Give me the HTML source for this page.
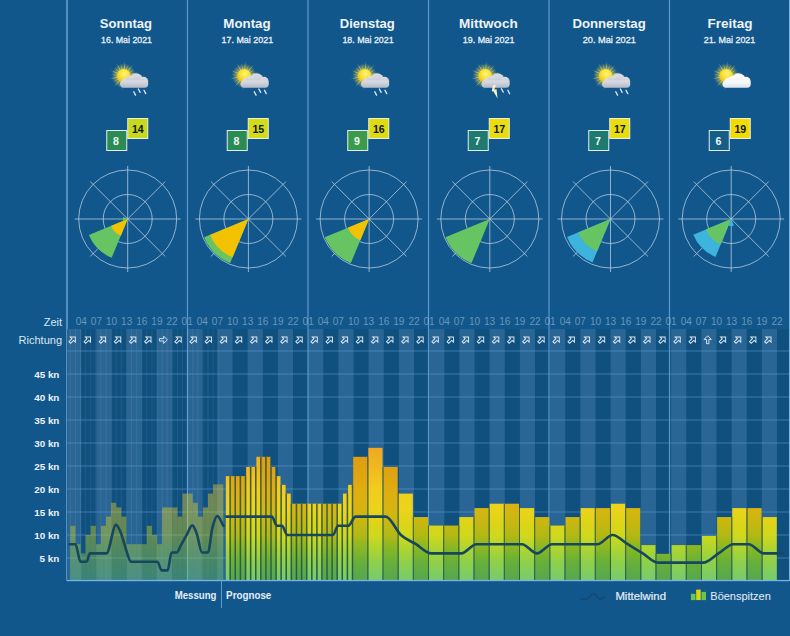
<!DOCTYPE html>
<html><head><meta charset="utf-8"><title>Wind</title>
<style>html,body{margin:0;padding:0;background:#12578c;width:790px;height:636px;overflow:hidden}svg{display:block}</style>
</head><body><svg width="790" height="636" viewBox="0 0 790 636"><defs>
<linearGradient id="bg" gradientUnits="userSpaceOnUse" x1="0" y1="581" x2="0" y2="443">
 <stop offset="0" stop-color="#78cc70"/>
 <stop offset="0.03" stop-color="#7acc68"/>
 <stop offset="0.14" stop-color="#90d048"/>
 <stop offset="0.26" stop-color="#b6d62a"/>
 <stop offset="0.33" stop-color="#d0d81c"/>
 <stop offset="0.41" stop-color="#dcd418"/>
 <stop offset="0.53" stop-color="#ecd41c"/>
 <stop offset="0.67" stop-color="#f2cc1e"/>
 <stop offset="0.83" stop-color="#f0b820"/>
 <stop offset="1" stop-color="#f0a424"/>
</linearGradient>
<linearGradient id="bgd" gradientUnits="userSpaceOnUse" x1="0" y1="581" x2="0" y2="443">
 <stop offset="0" stop-color="#56a650"/>
 <stop offset="0.03" stop-color="#58a84c"/>
 <stop offset="0.14" stop-color="#68b038"/>
 <stop offset="0.26" stop-color="#90b820"/>
 <stop offset="0.33" stop-color="#b2b814"/>
 <stop offset="0.43" stop-color="#c8b810"/>
 <stop offset="0.53" stop-color="#d8b410"/>
 <stop offset="0.67" stop-color="#e0ac10"/>
 <stop offset="0.83" stop-color="#e0a010"/>
 <stop offset="1" stop-color="#e09818"/>
</linearGradient>
<radialGradient id="sung" cx="0.55" cy="0.35" r="0.75">
 <stop offset="0" stop-color="#fff68a"/>
 <stop offset="0.45" stop-color="#fbe030"/>
 <stop offset="1" stop-color="#f0b010"/>
</radialGradient>
<radialGradient id="sunglow" cx="0.5" cy="0.5" r="0.5">
 <stop offset="0.5" stop-color="#f8e040" stop-opacity="0.55"/>
 <stop offset="1" stop-color="#f8e040" stop-opacity="0"/>
</radialGradient>
<linearGradient id="cloudg" x1="0" y1="0" x2="0" y2="1">
 <stop offset="0" stop-color="#dcdfe6"/>
 <stop offset="1" stop-color="#b6bac6"/>
</linearGradient>
<linearGradient id="cloudw" x1="0" y1="0" x2="0" y2="1">
 <stop offset="0" stop-color="#ffffff"/>
 <stop offset="1" stop-color="#dfe3ea"/>
</linearGradient>
</defs><rect width="790" height="636" fill="#12578c"/><text x="99.80" y="27.7" font-size="13" font-weight="bold" fill="#eef3f8" textLength="52.20" lengthAdjust="spacingAndGlyphs" font-family="Liberation Sans, sans-serif">Sonntag</text>
<text x="101.10" y="42.9" font-size="9.4" fill="#e8eff6" stroke="#e8eff6" stroke-width="0.3" textLength="50.90" lengthAdjust="spacingAndGlyphs" font-family="Liberation Sans, sans-serif">16. Mai 2021</text>
<text x="223.30" y="27.7" font-size="13" font-weight="bold" fill="#eef3f8" textLength="47.30" lengthAdjust="spacingAndGlyphs" font-family="Liberation Sans, sans-serif">Montag</text>
<text x="221.60" y="42.9" font-size="9.4" fill="#e8eff6" stroke="#e8eff6" stroke-width="0.3" textLength="51.50" lengthAdjust="spacingAndGlyphs" font-family="Liberation Sans, sans-serif">17. Mai 2021</text>
<text x="339.80" y="27.7" font-size="13" font-weight="bold" fill="#eef3f8" textLength="55.00" lengthAdjust="spacingAndGlyphs" font-family="Liberation Sans, sans-serif">Dienstag</text>
<text x="342.40" y="42.9" font-size="9.4" fill="#e8eff6" stroke="#e8eff6" stroke-width="0.3" textLength="51.20" lengthAdjust="spacingAndGlyphs" font-family="Liberation Sans, sans-serif">18. Mai 2021</text>
<text x="459.00" y="27.7" font-size="13" font-weight="bold" fill="#eef3f8" textLength="58.70" lengthAdjust="spacingAndGlyphs" font-family="Liberation Sans, sans-serif">Mittwoch</text>
<text x="462.80" y="42.9" font-size="9.4" fill="#e8eff6" stroke="#e8eff6" stroke-width="0.3" textLength="51.60" lengthAdjust="spacingAndGlyphs" font-family="Liberation Sans, sans-serif">19. Mai 2021</text>
<text x="572.40" y="27.7" font-size="13" font-weight="bold" fill="#eef3f8" textLength="73.30" lengthAdjust="spacingAndGlyphs" font-family="Liberation Sans, sans-serif">Donnerstag</text>
<text x="582.70" y="42.9" font-size="9.4" fill="#e8eff6" stroke="#e8eff6" stroke-width="0.3" textLength="53.20" lengthAdjust="spacingAndGlyphs" font-family="Liberation Sans, sans-serif">20. Mai 2021</text>
<text x="707.50" y="27.7" font-size="13" font-weight="bold" fill="#eef3f8" textLength="45.00" lengthAdjust="spacingAndGlyphs" font-family="Liberation Sans, sans-serif">Freitag</text>
<text x="703.70" y="42.9" font-size="9.4" fill="#e8eff6" stroke="#e8eff6" stroke-width="0.3" textLength="51.60" lengthAdjust="spacingAndGlyphs" font-family="Liberation Sans, sans-serif">21. Mai 2021</text>
<rect x="66.40" y="0" width="1.2" height="581" fill="#80b6e2"/>
<rect x="186.90" y="0" width="1.2" height="581" fill="#5a98cf"/>
<rect x="307.40" y="0" width="1.2" height="581" fill="#5a98cf"/>
<rect x="427.90" y="0" width="1.2" height="581" fill="#5a98cf"/>
<rect x="548.40" y="0" width="1.2" height="581" fill="#5a98cf"/>
<rect x="668.90" y="0" width="1.2" height="581" fill="#5a98cf"/>
<g transform="translate(123.65,75.8)"><circle r="12.5" fill="url(#sunglow)"/><path d="M-0.9,0 L0,-14.5 L0.9,0 Z" fill="#f6e455" opacity="0.65" transform="rotate(5)"/><path d="M-0.9,0 L0,-11.5 L0.9,0 Z" fill="#f6e455" opacity="0.65" transform="rotate(23)"/><path d="M-0.9,0 L0,-14.5 L0.9,0 Z" fill="#f6e455" opacity="0.65" transform="rotate(41)"/><path d="M-0.9,0 L0,-11.5 L0.9,0 Z" fill="#f6e455" opacity="0.65" transform="rotate(59)"/><path d="M-0.9,0 L0,-14.5 L0.9,0 Z" fill="#f6e455" opacity="0.65" transform="rotate(77)"/><path d="M-0.9,0 L0,-11.5 L0.9,0 Z" fill="#f6e455" opacity="0.65" transform="rotate(95)"/><path d="M-0.9,0 L0,-14.5 L0.9,0 Z" fill="#f6e455" opacity="0.65" transform="rotate(113)"/><path d="M-0.9,0 L0,-11.5 L0.9,0 Z" fill="#f6e455" opacity="0.65" transform="rotate(131)"/><path d="M-0.9,0 L0,-14.5 L0.9,0 Z" fill="#f6e455" opacity="0.65" transform="rotate(149)"/><path d="M-0.9,0 L0,-11.5 L0.9,0 Z" fill="#f6e455" opacity="0.65" transform="rotate(167)"/><path d="M-0.9,0 L0,-14.5 L0.9,0 Z" fill="#f6e455" opacity="0.65" transform="rotate(185)"/><path d="M-0.9,0 L0,-11.5 L0.9,0 Z" fill="#f6e455" opacity="0.65" transform="rotate(203)"/><path d="M-0.9,0 L0,-14.5 L0.9,0 Z" fill="#f6e455" opacity="0.65" transform="rotate(221)"/><path d="M-0.9,0 L0,-11.5 L0.9,0 Z" fill="#f6e455" opacity="0.65" transform="rotate(239)"/><path d="M-0.9,0 L0,-14.5 L0.9,0 Z" fill="#f6e455" opacity="0.65" transform="rotate(257)"/><path d="M-0.9,0 L0,-11.5 L0.9,0 Z" fill="#f6e455" opacity="0.65" transform="rotate(275)"/><path d="M-0.9,0 L0,-14.5 L0.9,0 Z" fill="#f6e455" opacity="0.65" transform="rotate(293)"/><path d="M-0.9,0 L0,-11.5 L0.9,0 Z" fill="#f6e455" opacity="0.65" transform="rotate(311)"/><path d="M-0.9,0 L0,-14.5 L0.9,0 Z" fill="#f6e455" opacity="0.65" transform="rotate(329)"/><path d="M-0.9,0 L0,-11.5 L0.9,0 Z" fill="#f6e455" opacity="0.65" transform="rotate(347)"/><circle r="6.8" fill="url(#sung)"/></g><g transform="translate(127.25,0)" fill="url(#cloudg)"><circle cx="-1.2" cy="82.6" r="4.6"/><circle cx="8.8" cy="80.2" r="7"/><circle cx="16.2" cy="81.6" r="4.8"/><circle cx="3" cy="80.6" r="4.6"/><rect x="-7.2" y="80.5" width="28.2" height="7.2" rx="3.6"/></g><line x1="133.75" y1="91.7" x2="135.55" y2="95.10000000000001" stroke="#dfeaf7" stroke-width="1.3" stroke-linecap="round"/><line x1="138.35" y1="89.0" x2="140.15" y2="92.4" stroke="#dfeaf7" stroke-width="1.3" stroke-linecap="round"/><line x1="143.95" y1="90.2" x2="145.75" y2="93.60000000000001" stroke="#dfeaf7" stroke-width="1.3" stroke-linecap="round"/>
<g transform="translate(244.15,75.8)"><circle r="12.5" fill="url(#sunglow)"/><path d="M-0.9,0 L0,-14.5 L0.9,0 Z" fill="#f6e455" opacity="0.65" transform="rotate(5)"/><path d="M-0.9,0 L0,-11.5 L0.9,0 Z" fill="#f6e455" opacity="0.65" transform="rotate(23)"/><path d="M-0.9,0 L0,-14.5 L0.9,0 Z" fill="#f6e455" opacity="0.65" transform="rotate(41)"/><path d="M-0.9,0 L0,-11.5 L0.9,0 Z" fill="#f6e455" opacity="0.65" transform="rotate(59)"/><path d="M-0.9,0 L0,-14.5 L0.9,0 Z" fill="#f6e455" opacity="0.65" transform="rotate(77)"/><path d="M-0.9,0 L0,-11.5 L0.9,0 Z" fill="#f6e455" opacity="0.65" transform="rotate(95)"/><path d="M-0.9,0 L0,-14.5 L0.9,0 Z" fill="#f6e455" opacity="0.65" transform="rotate(113)"/><path d="M-0.9,0 L0,-11.5 L0.9,0 Z" fill="#f6e455" opacity="0.65" transform="rotate(131)"/><path d="M-0.9,0 L0,-14.5 L0.9,0 Z" fill="#f6e455" opacity="0.65" transform="rotate(149)"/><path d="M-0.9,0 L0,-11.5 L0.9,0 Z" fill="#f6e455" opacity="0.65" transform="rotate(167)"/><path d="M-0.9,0 L0,-14.5 L0.9,0 Z" fill="#f6e455" opacity="0.65" transform="rotate(185)"/><path d="M-0.9,0 L0,-11.5 L0.9,0 Z" fill="#f6e455" opacity="0.65" transform="rotate(203)"/><path d="M-0.9,0 L0,-14.5 L0.9,0 Z" fill="#f6e455" opacity="0.65" transform="rotate(221)"/><path d="M-0.9,0 L0,-11.5 L0.9,0 Z" fill="#f6e455" opacity="0.65" transform="rotate(239)"/><path d="M-0.9,0 L0,-14.5 L0.9,0 Z" fill="#f6e455" opacity="0.65" transform="rotate(257)"/><path d="M-0.9,0 L0,-11.5 L0.9,0 Z" fill="#f6e455" opacity="0.65" transform="rotate(275)"/><path d="M-0.9,0 L0,-14.5 L0.9,0 Z" fill="#f6e455" opacity="0.65" transform="rotate(293)"/><path d="M-0.9,0 L0,-11.5 L0.9,0 Z" fill="#f6e455" opacity="0.65" transform="rotate(311)"/><path d="M-0.9,0 L0,-14.5 L0.9,0 Z" fill="#f6e455" opacity="0.65" transform="rotate(329)"/><path d="M-0.9,0 L0,-11.5 L0.9,0 Z" fill="#f6e455" opacity="0.65" transform="rotate(347)"/><circle r="6.8" fill="url(#sung)"/></g><g transform="translate(247.75,0)" fill="url(#cloudg)"><circle cx="-1.2" cy="82.6" r="4.6"/><circle cx="8.8" cy="80.2" r="7"/><circle cx="16.2" cy="81.6" r="4.8"/><circle cx="3" cy="80.6" r="4.6"/><rect x="-7.2" y="80.5" width="28.2" height="7.2" rx="3.6"/></g><line x1="254.25" y1="91.7" x2="256.05" y2="95.10000000000001" stroke="#dfeaf7" stroke-width="1.3" stroke-linecap="round"/><line x1="258.85" y1="89.0" x2="260.65" y2="92.4" stroke="#dfeaf7" stroke-width="1.3" stroke-linecap="round"/><line x1="264.45" y1="90.2" x2="266.25" y2="93.60000000000001" stroke="#dfeaf7" stroke-width="1.3" stroke-linecap="round"/>
<g transform="translate(364.65,75.8)"><circle r="12.5" fill="url(#sunglow)"/><path d="M-0.9,0 L0,-14.5 L0.9,0 Z" fill="#f6e455" opacity="0.65" transform="rotate(5)"/><path d="M-0.9,0 L0,-11.5 L0.9,0 Z" fill="#f6e455" opacity="0.65" transform="rotate(23)"/><path d="M-0.9,0 L0,-14.5 L0.9,0 Z" fill="#f6e455" opacity="0.65" transform="rotate(41)"/><path d="M-0.9,0 L0,-11.5 L0.9,0 Z" fill="#f6e455" opacity="0.65" transform="rotate(59)"/><path d="M-0.9,0 L0,-14.5 L0.9,0 Z" fill="#f6e455" opacity="0.65" transform="rotate(77)"/><path d="M-0.9,0 L0,-11.5 L0.9,0 Z" fill="#f6e455" opacity="0.65" transform="rotate(95)"/><path d="M-0.9,0 L0,-14.5 L0.9,0 Z" fill="#f6e455" opacity="0.65" transform="rotate(113)"/><path d="M-0.9,0 L0,-11.5 L0.9,0 Z" fill="#f6e455" opacity="0.65" transform="rotate(131)"/><path d="M-0.9,0 L0,-14.5 L0.9,0 Z" fill="#f6e455" opacity="0.65" transform="rotate(149)"/><path d="M-0.9,0 L0,-11.5 L0.9,0 Z" fill="#f6e455" opacity="0.65" transform="rotate(167)"/><path d="M-0.9,0 L0,-14.5 L0.9,0 Z" fill="#f6e455" opacity="0.65" transform="rotate(185)"/><path d="M-0.9,0 L0,-11.5 L0.9,0 Z" fill="#f6e455" opacity="0.65" transform="rotate(203)"/><path d="M-0.9,0 L0,-14.5 L0.9,0 Z" fill="#f6e455" opacity="0.65" transform="rotate(221)"/><path d="M-0.9,0 L0,-11.5 L0.9,0 Z" fill="#f6e455" opacity="0.65" transform="rotate(239)"/><path d="M-0.9,0 L0,-14.5 L0.9,0 Z" fill="#f6e455" opacity="0.65" transform="rotate(257)"/><path d="M-0.9,0 L0,-11.5 L0.9,0 Z" fill="#f6e455" opacity="0.65" transform="rotate(275)"/><path d="M-0.9,0 L0,-14.5 L0.9,0 Z" fill="#f6e455" opacity="0.65" transform="rotate(293)"/><path d="M-0.9,0 L0,-11.5 L0.9,0 Z" fill="#f6e455" opacity="0.65" transform="rotate(311)"/><path d="M-0.9,0 L0,-14.5 L0.9,0 Z" fill="#f6e455" opacity="0.65" transform="rotate(329)"/><path d="M-0.9,0 L0,-11.5 L0.9,0 Z" fill="#f6e455" opacity="0.65" transform="rotate(347)"/><circle r="6.8" fill="url(#sung)"/></g><g transform="translate(368.25,0)" fill="url(#cloudg)"><circle cx="-1.2" cy="82.6" r="4.6"/><circle cx="8.8" cy="80.2" r="7"/><circle cx="16.2" cy="81.6" r="4.8"/><circle cx="3" cy="80.6" r="4.6"/><rect x="-7.2" y="80.5" width="28.2" height="7.2" rx="3.6"/></g><line x1="374.75" y1="91.7" x2="376.55" y2="95.10000000000001" stroke="#dfeaf7" stroke-width="1.3" stroke-linecap="round"/><line x1="379.35" y1="89.0" x2="381.15" y2="92.4" stroke="#dfeaf7" stroke-width="1.3" stroke-linecap="round"/><line x1="384.95" y1="90.2" x2="386.75" y2="93.60000000000001" stroke="#dfeaf7" stroke-width="1.3" stroke-linecap="round"/>
<g transform="translate(485.15,75.8)"><circle r="12.5" fill="url(#sunglow)"/><path d="M-0.9,0 L0,-14.5 L0.9,0 Z" fill="#f6e455" opacity="0.65" transform="rotate(5)"/><path d="M-0.9,0 L0,-11.5 L0.9,0 Z" fill="#f6e455" opacity="0.65" transform="rotate(23)"/><path d="M-0.9,0 L0,-14.5 L0.9,0 Z" fill="#f6e455" opacity="0.65" transform="rotate(41)"/><path d="M-0.9,0 L0,-11.5 L0.9,0 Z" fill="#f6e455" opacity="0.65" transform="rotate(59)"/><path d="M-0.9,0 L0,-14.5 L0.9,0 Z" fill="#f6e455" opacity="0.65" transform="rotate(77)"/><path d="M-0.9,0 L0,-11.5 L0.9,0 Z" fill="#f6e455" opacity="0.65" transform="rotate(95)"/><path d="M-0.9,0 L0,-14.5 L0.9,0 Z" fill="#f6e455" opacity="0.65" transform="rotate(113)"/><path d="M-0.9,0 L0,-11.5 L0.9,0 Z" fill="#f6e455" opacity="0.65" transform="rotate(131)"/><path d="M-0.9,0 L0,-14.5 L0.9,0 Z" fill="#f6e455" opacity="0.65" transform="rotate(149)"/><path d="M-0.9,0 L0,-11.5 L0.9,0 Z" fill="#f6e455" opacity="0.65" transform="rotate(167)"/><path d="M-0.9,0 L0,-14.5 L0.9,0 Z" fill="#f6e455" opacity="0.65" transform="rotate(185)"/><path d="M-0.9,0 L0,-11.5 L0.9,0 Z" fill="#f6e455" opacity="0.65" transform="rotate(203)"/><path d="M-0.9,0 L0,-14.5 L0.9,0 Z" fill="#f6e455" opacity="0.65" transform="rotate(221)"/><path d="M-0.9,0 L0,-11.5 L0.9,0 Z" fill="#f6e455" opacity="0.65" transform="rotate(239)"/><path d="M-0.9,0 L0,-14.5 L0.9,0 Z" fill="#f6e455" opacity="0.65" transform="rotate(257)"/><path d="M-0.9,0 L0,-11.5 L0.9,0 Z" fill="#f6e455" opacity="0.65" transform="rotate(275)"/><path d="M-0.9,0 L0,-14.5 L0.9,0 Z" fill="#f6e455" opacity="0.65" transform="rotate(293)"/><path d="M-0.9,0 L0,-11.5 L0.9,0 Z" fill="#f6e455" opacity="0.65" transform="rotate(311)"/><path d="M-0.9,0 L0,-14.5 L0.9,0 Z" fill="#f6e455" opacity="0.65" transform="rotate(329)"/><path d="M-0.9,0 L0,-11.5 L0.9,0 Z" fill="#f6e455" opacity="0.65" transform="rotate(347)"/><circle r="6.8" fill="url(#sung)"/></g><g transform="translate(488.75,0)" fill="url(#cloudg)"><circle cx="-1.2" cy="82.6" r="4.6"/><circle cx="8.8" cy="80.2" r="7"/><circle cx="16.2" cy="81.6" r="4.8"/><circle cx="3" cy="80.6" r="4.6"/><rect x="-7.2" y="80.5" width="28.2" height="7.2" rx="3.6"/></g><line x1="501.45" y1="88.7" x2="503.25" y2="92.10000000000001" stroke="#dfeaf7" stroke-width="1.3" stroke-linecap="round"/><line x1="507.85" y1="90.3" x2="509.65" y2="93.7" stroke="#dfeaf7" stroke-width="1.3" stroke-linecap="round"/><path d="M492.95,85 L495.95,85 L494.35,89.6 L496.55,89.2 L497.55,98.5 L493.35,91.2 L491.75,91.6 Z" fill="#f6f2c4"/>
<g transform="translate(605.65,75.8)"><circle r="12.5" fill="url(#sunglow)"/><path d="M-0.9,0 L0,-14.5 L0.9,0 Z" fill="#f6e455" opacity="0.65" transform="rotate(5)"/><path d="M-0.9,0 L0,-11.5 L0.9,0 Z" fill="#f6e455" opacity="0.65" transform="rotate(23)"/><path d="M-0.9,0 L0,-14.5 L0.9,0 Z" fill="#f6e455" opacity="0.65" transform="rotate(41)"/><path d="M-0.9,0 L0,-11.5 L0.9,0 Z" fill="#f6e455" opacity="0.65" transform="rotate(59)"/><path d="M-0.9,0 L0,-14.5 L0.9,0 Z" fill="#f6e455" opacity="0.65" transform="rotate(77)"/><path d="M-0.9,0 L0,-11.5 L0.9,0 Z" fill="#f6e455" opacity="0.65" transform="rotate(95)"/><path d="M-0.9,0 L0,-14.5 L0.9,0 Z" fill="#f6e455" opacity="0.65" transform="rotate(113)"/><path d="M-0.9,0 L0,-11.5 L0.9,0 Z" fill="#f6e455" opacity="0.65" transform="rotate(131)"/><path d="M-0.9,0 L0,-14.5 L0.9,0 Z" fill="#f6e455" opacity="0.65" transform="rotate(149)"/><path d="M-0.9,0 L0,-11.5 L0.9,0 Z" fill="#f6e455" opacity="0.65" transform="rotate(167)"/><path d="M-0.9,0 L0,-14.5 L0.9,0 Z" fill="#f6e455" opacity="0.65" transform="rotate(185)"/><path d="M-0.9,0 L0,-11.5 L0.9,0 Z" fill="#f6e455" opacity="0.65" transform="rotate(203)"/><path d="M-0.9,0 L0,-14.5 L0.9,0 Z" fill="#f6e455" opacity="0.65" transform="rotate(221)"/><path d="M-0.9,0 L0,-11.5 L0.9,0 Z" fill="#f6e455" opacity="0.65" transform="rotate(239)"/><path d="M-0.9,0 L0,-14.5 L0.9,0 Z" fill="#f6e455" opacity="0.65" transform="rotate(257)"/><path d="M-0.9,0 L0,-11.5 L0.9,0 Z" fill="#f6e455" opacity="0.65" transform="rotate(275)"/><path d="M-0.9,0 L0,-14.5 L0.9,0 Z" fill="#f6e455" opacity="0.65" transform="rotate(293)"/><path d="M-0.9,0 L0,-11.5 L0.9,0 Z" fill="#f6e455" opacity="0.65" transform="rotate(311)"/><path d="M-0.9,0 L0,-14.5 L0.9,0 Z" fill="#f6e455" opacity="0.65" transform="rotate(329)"/><path d="M-0.9,0 L0,-11.5 L0.9,0 Z" fill="#f6e455" opacity="0.65" transform="rotate(347)"/><circle r="6.8" fill="url(#sung)"/></g><g transform="translate(609.25,0)" fill="url(#cloudg)"><circle cx="-1.2" cy="82.6" r="4.6"/><circle cx="8.8" cy="80.2" r="7"/><circle cx="16.2" cy="81.6" r="4.8"/><circle cx="3" cy="80.6" r="4.6"/><rect x="-7.2" y="80.5" width="28.2" height="7.2" rx="3.6"/></g><line x1="615.75" y1="91.7" x2="617.55" y2="95.10000000000001" stroke="#dfeaf7" stroke-width="1.3" stroke-linecap="round"/><line x1="620.35" y1="89.0" x2="622.15" y2="92.4" stroke="#dfeaf7" stroke-width="1.3" stroke-linecap="round"/><line x1="625.95" y1="90.2" x2="627.75" y2="93.60000000000001" stroke="#dfeaf7" stroke-width="1.3" stroke-linecap="round"/>
<g transform="translate(726.15,75.8)"><circle r="12.5" fill="url(#sunglow)"/><path d="M-0.9,0 L0,-14.5 L0.9,0 Z" fill="#f6e455" opacity="0.65" transform="rotate(5)"/><path d="M-0.9,0 L0,-11.5 L0.9,0 Z" fill="#f6e455" opacity="0.65" transform="rotate(23)"/><path d="M-0.9,0 L0,-14.5 L0.9,0 Z" fill="#f6e455" opacity="0.65" transform="rotate(41)"/><path d="M-0.9,0 L0,-11.5 L0.9,0 Z" fill="#f6e455" opacity="0.65" transform="rotate(59)"/><path d="M-0.9,0 L0,-14.5 L0.9,0 Z" fill="#f6e455" opacity="0.65" transform="rotate(77)"/><path d="M-0.9,0 L0,-11.5 L0.9,0 Z" fill="#f6e455" opacity="0.65" transform="rotate(95)"/><path d="M-0.9,0 L0,-14.5 L0.9,0 Z" fill="#f6e455" opacity="0.65" transform="rotate(113)"/><path d="M-0.9,0 L0,-11.5 L0.9,0 Z" fill="#f6e455" opacity="0.65" transform="rotate(131)"/><path d="M-0.9,0 L0,-14.5 L0.9,0 Z" fill="#f6e455" opacity="0.65" transform="rotate(149)"/><path d="M-0.9,0 L0,-11.5 L0.9,0 Z" fill="#f6e455" opacity="0.65" transform="rotate(167)"/><path d="M-0.9,0 L0,-14.5 L0.9,0 Z" fill="#f6e455" opacity="0.65" transform="rotate(185)"/><path d="M-0.9,0 L0,-11.5 L0.9,0 Z" fill="#f6e455" opacity="0.65" transform="rotate(203)"/><path d="M-0.9,0 L0,-14.5 L0.9,0 Z" fill="#f6e455" opacity="0.65" transform="rotate(221)"/><path d="M-0.9,0 L0,-11.5 L0.9,0 Z" fill="#f6e455" opacity="0.65" transform="rotate(239)"/><path d="M-0.9,0 L0,-14.5 L0.9,0 Z" fill="#f6e455" opacity="0.65" transform="rotate(257)"/><path d="M-0.9,0 L0,-11.5 L0.9,0 Z" fill="#f6e455" opacity="0.65" transform="rotate(275)"/><path d="M-0.9,0 L0,-14.5 L0.9,0 Z" fill="#f6e455" opacity="0.65" transform="rotate(293)"/><path d="M-0.9,0 L0,-11.5 L0.9,0 Z" fill="#f6e455" opacity="0.65" transform="rotate(311)"/><path d="M-0.9,0 L0,-14.5 L0.9,0 Z" fill="#f6e455" opacity="0.65" transform="rotate(329)"/><path d="M-0.9,0 L0,-11.5 L0.9,0 Z" fill="#f6e455" opacity="0.65" transform="rotate(347)"/><circle r="6.8" fill="url(#sung)"/></g><g transform="translate(729.75,0)" fill="url(#cloudw)"><circle cx="-1.2" cy="82.6" r="4.6"/><circle cx="8.8" cy="80.2" r="7"/><circle cx="16.2" cy="81.6" r="4.8"/><circle cx="3" cy="80.6" r="4.6"/><rect x="-7.2" y="80.5" width="28.2" height="7.2" rx="3.6"/></g>
<rect x="106.75" y="130.5" width="20" height="20" fill="#2a8b55" stroke="#e4eee8" stroke-width="1"/>
<rect x="127.75" y="118.5" width="20" height="20" fill="#c6d91e" stroke="#eef0dc" stroke-width="1"/>
<text x="116.05" y="144.6" text-anchor="middle" font-size="10.6" font-weight="bold" fill="#f2f6f4" font-family="Liberation Sans, sans-serif">8</text>
<text x="137.85" y="132.8" text-anchor="middle" font-size="10.6" font-weight="bold" fill="#111" font-family="Liberation Sans, sans-serif">14</text>
<rect x="227.25" y="130.5" width="20" height="20" fill="#2a8b55" stroke="#e4eee8" stroke-width="1"/>
<rect x="248.25" y="118.5" width="20" height="20" fill="#d2dc18" stroke="#eef0dc" stroke-width="1"/>
<text x="236.55" y="144.6" text-anchor="middle" font-size="10.6" font-weight="bold" fill="#f2f6f4" font-family="Liberation Sans, sans-serif">8</text>
<text x="258.35" y="132.8" text-anchor="middle" font-size="10.6" font-weight="bold" fill="#111" font-family="Liberation Sans, sans-serif">15</text>
<rect x="347.75" y="130.5" width="20" height="20" fill="#3c9b4a" stroke="#e4eee8" stroke-width="1"/>
<rect x="368.75" y="118.5" width="20" height="20" fill="#dedc10" stroke="#eef0dc" stroke-width="1"/>
<text x="357.05" y="144.6" text-anchor="middle" font-size="10.6" font-weight="bold" fill="#f2f6f4" font-family="Liberation Sans, sans-serif">9</text>
<text x="378.85" y="132.8" text-anchor="middle" font-size="10.6" font-weight="bold" fill="#111" font-family="Liberation Sans, sans-serif">16</text>
<rect x="468.25" y="130.5" width="20" height="20" fill="#1e7a6e" stroke="#e4eee8" stroke-width="1"/>
<rect x="489.25" y="118.5" width="20" height="20" fill="#e9dd0e" stroke="#eef0dc" stroke-width="1"/>
<text x="477.55" y="144.6" text-anchor="middle" font-size="10.6" font-weight="bold" fill="#f2f6f4" font-family="Liberation Sans, sans-serif">7</text>
<text x="499.35" y="132.8" text-anchor="middle" font-size="10.6" font-weight="bold" fill="#111" font-family="Liberation Sans, sans-serif">17</text>
<rect x="588.75" y="130.5" width="20" height="20" fill="#1e7a6e" stroke="#e4eee8" stroke-width="1"/>
<rect x="609.75" y="118.5" width="20" height="20" fill="#e9dd0e" stroke="#eef0dc" stroke-width="1"/>
<text x="598.05" y="144.6" text-anchor="middle" font-size="10.6" font-weight="bold" fill="#f2f6f4" font-family="Liberation Sans, sans-serif">7</text>
<text x="619.85" y="132.8" text-anchor="middle" font-size="10.6" font-weight="bold" fill="#111" font-family="Liberation Sans, sans-serif">17</text>
<rect x="709.25" y="130.5" width="20" height="20" fill="#165e88" stroke="#e4eee8" stroke-width="1"/>
<rect x="730.25" y="118.5" width="20" height="20" fill="#f1dc02" stroke="#eef0dc" stroke-width="1"/>
<text x="718.55" y="144.6" text-anchor="middle" font-size="10.6" font-weight="bold" fill="#f2f6f4" font-family="Liberation Sans, sans-serif">6</text>
<text x="740.35" y="132.8" text-anchor="middle" font-size="10.6" font-weight="bold" fill="#111" font-family="Liberation Sans, sans-serif">19</text>
<g stroke="#c8d8ea" stroke-opacity="0.7" stroke-width="1"><circle cx="127.70" cy="219" r="24.5" fill="none"/><circle cx="127.70" cy="219" r="49" fill="none"/><line x1="127.70" y1="166.00" x2="127.70" y2="272.00"/><line x1="90.22" y1="181.52" x2="165.18" y2="256.48"/><line x1="74.70" y1="219.00" x2="180.70" y2="219.00"/><line x1="90.22" y1="256.48" x2="165.18" y2="181.52"/></g>
<path d="M127.70,219.00 L111.63,257.80 A42,42 0 0 1 88.90,235.07 Z" fill="#67c463"/>
<path d="M127.70,219.00 L120.81,235.63 A18,18 0 0 1 111.07,225.89 Z" fill="#f2c200"/>
<path d="M127.70,219.00 L123.08,220.91 A5,5 0 0 1 123.08,217.09 Z" fill="#67c463"/>
<g stroke="#c8d8ea" stroke-opacity="0.7" stroke-width="1"><circle cx="248.40" cy="219" r="24.5" fill="none"/><circle cx="248.40" cy="219" r="49" fill="none"/><line x1="248.40" y1="166.00" x2="248.40" y2="272.00"/><line x1="210.92" y1="181.52" x2="285.88" y2="256.48"/><line x1="195.40" y1="219.00" x2="301.40" y2="219.00"/><line x1="210.92" y1="256.48" x2="285.88" y2="181.52"/></g>
<path d="M248.40,219.00 L230.03,263.35 A48,48 0 0 1 204.05,237.37 Z" fill="#67c463"/>
<path d="M248.40,219.00 L232.52,257.34 A41.5,41.5 0 0 1 210.06,234.88 Z" fill="#f2c200"/>
<g stroke="#c8d8ea" stroke-opacity="0.7" stroke-width="1"><circle cx="369.10" cy="219" r="24.5" fill="none"/><circle cx="369.10" cy="219" r="49" fill="none"/><line x1="369.10" y1="166.00" x2="369.10" y2="272.00"/><line x1="331.62" y1="181.52" x2="406.58" y2="256.48"/><line x1="316.10" y1="219.00" x2="422.10" y2="219.00"/><line x1="331.62" y1="256.48" x2="406.58" y2="181.52"/></g>
<path d="M369.10,219.00 L350.73,263.35 A48,48 0 0 1 324.75,237.37 Z" fill="#67c463"/>
<path d="M369.10,219.00 L360.30,240.25 A23,23 0 0 1 347.85,227.80 Z" fill="#f2c200"/>
<g stroke="#c8d8ea" stroke-opacity="0.7" stroke-width="1"><circle cx="489.80" cy="219" r="24.5" fill="none"/><circle cx="489.80" cy="219" r="49" fill="none"/><line x1="489.80" y1="166.00" x2="489.80" y2="272.00"/><line x1="452.32" y1="181.52" x2="527.28" y2="256.48"/><line x1="436.80" y1="219.00" x2="542.80" y2="219.00"/><line x1="452.32" y1="256.48" x2="527.28" y2="181.52"/></g>
<path d="M489.80,219.00 L471.43,263.35 A48,48 0 0 1 445.45,237.37 Z" fill="#67c463"/>
<g stroke="#c8d8ea" stroke-opacity="0.7" stroke-width="1"><circle cx="610.50" cy="219" r="24.5" fill="none"/><circle cx="610.50" cy="219" r="49" fill="none"/><line x1="610.50" y1="166.00" x2="610.50" y2="272.00"/><line x1="573.02" y1="181.52" x2="647.98" y2="256.48"/><line x1="557.50" y1="219.00" x2="663.50" y2="219.00"/><line x1="573.02" y1="256.48" x2="647.98" y2="181.52"/></g>
<path d="M610.50,219.00 L592.51,262.42 A47,47 0 0 1 567.08,236.99 Z" fill="#3db4dc"/>
<path d="M610.50,219.00 L597.11,251.34 A35,35 0 0 1 578.16,232.39 Z" fill="#67c463"/>
<g stroke="#c8d8ea" stroke-opacity="0.7" stroke-width="1"><circle cx="731.20" cy="219" r="24.5" fill="none"/><circle cx="731.20" cy="219" r="49" fill="none"/><line x1="731.20" y1="166.00" x2="731.20" y2="272.00"/><line x1="693.72" y1="181.52" x2="768.68" y2="256.48"/><line x1="678.20" y1="219.00" x2="784.20" y2="219.00"/><line x1="693.72" y1="256.48" x2="768.68" y2="181.52"/></g>
<path d="M731.20,219.00 L715.51,256.88 A41,41 0 0 1 693.32,234.69 Z" fill="#3db4dc"/>
<path d="M731.20,219.00 L720.68,244.41 A27.5,27.5 0 0 1 705.79,229.52 Z" fill="#67c463"/>
<path d="M731.20,219.00 L733.88,225.47 A7,7 0 0 1 728.52,225.47 Z" fill="#3db4dc"/>
<text x="62" y="326" text-anchor="end" font-size="11" fill="#dbe6f1" font-family="Liberation Sans, sans-serif">Zeit</text>
<text x="62" y="343.5" text-anchor="end" font-size="11" fill="#dbe6f1" font-family="Liberation Sans, sans-serif">Richtung</text>
<clipPath id="cc"><rect x="67" y="329" width="722" height="251.5"/></clipPath>
<rect x="67" y="329" width="722" height="251.5" fill="#10507f"/>
<g clip-path="url(#cc)"><rect x="66.18" y="329" width="15.12" height="251.5" fill="#2a6695"/><rect x="96.43" y="329" width="15.12" height="251.5" fill="#2a6695"/><rect x="126.67" y="329" width="15.12" height="251.5" fill="#2a6695"/><rect x="156.92" y="329" width="15.12" height="251.5" fill="#2a6695"/><rect x="187.16" y="329" width="15.12" height="251.5" fill="#2a6695"/><rect x="217.41" y="329" width="15.12" height="251.5" fill="#2a6695"/><rect x="247.66" y="329" width="15.12" height="251.5" fill="#2a6695"/><rect x="277.90" y="329" width="15.12" height="251.5" fill="#2a6695"/><rect x="308.15" y="329" width="15.12" height="251.5" fill="#2a6695"/><rect x="338.39" y="329" width="15.12" height="251.5" fill="#2a6695"/><rect x="368.64" y="329" width="15.12" height="251.5" fill="#2a6695"/><rect x="398.89" y="329" width="15.12" height="251.5" fill="#2a6695"/><rect x="429.13" y="329" width="15.12" height="251.5" fill="#2a6695"/><rect x="459.38" y="329" width="15.12" height="251.5" fill="#2a6695"/><rect x="489.62" y="329" width="15.12" height="251.5" fill="#2a6695"/><rect x="519.87" y="329" width="15.12" height="251.5" fill="#2a6695"/><rect x="550.12" y="329" width="15.12" height="251.5" fill="#2a6695"/><rect x="580.36" y="329" width="15.12" height="251.5" fill="#2a6695"/><rect x="610.61" y="329" width="15.12" height="251.5" fill="#2a6695"/><rect x="640.85" y="329" width="15.12" height="251.5" fill="#2a6695"/><rect x="671.10" y="329" width="15.12" height="251.5" fill="#2a6695"/><rect x="701.35" y="329" width="15.12" height="251.5" fill="#2a6695"/><rect x="731.59" y="329" width="15.12" height="251.5" fill="#2a6695"/><rect x="761.84" y="329" width="15.12" height="251.5" fill="#2a6695"/></g>
<rect x="186.90" y="329" width="1.2" height="251.5" fill="#5a98cf"/>
<rect x="307.40" y="329" width="1.2" height="251.5" fill="#5a98cf"/>
<rect x="427.90" y="329" width="1.2" height="251.5" fill="#5a98cf"/>
<rect x="548.40" y="329" width="1.2" height="251.5" fill="#5a98cf"/>
<rect x="668.90" y="329" width="1.2" height="251.5" fill="#5a98cf"/>
<rect x="69.80" y="329" width="1" height="251.5" fill="#ffffff" opacity="0.07"/><rect x="74.90" y="329" width="1" height="251.5" fill="#ffffff" opacity="0.07"/><rect x="80.00" y="329" width="1" height="251.5" fill="#ffffff" opacity="0.07"/><rect x="85.10" y="329" width="1" height="251.5" fill="#ffffff" opacity="0.07"/><rect x="90.20" y="329" width="1" height="251.5" fill="#ffffff" opacity="0.07"/><rect x="95.30" y="329" width="1" height="251.5" fill="#ffffff" opacity="0.07"/><rect x="100.40" y="329" width="1" height="251.5" fill="#ffffff" opacity="0.07"/><rect x="105.50" y="329" width="1" height="251.5" fill="#ffffff" opacity="0.07"/><rect x="110.60" y="329" width="1" height="251.5" fill="#ffffff" opacity="0.07"/><rect x="115.70" y="329" width="1" height="251.5" fill="#ffffff" opacity="0.07"/><rect x="120.80" y="329" width="1" height="251.5" fill="#ffffff" opacity="0.07"/><rect x="125.90" y="329" width="1" height="251.5" fill="#ffffff" opacity="0.07"/><rect x="131.00" y="329" width="1" height="251.5" fill="#ffffff" opacity="0.07"/><rect x="136.10" y="329" width="1" height="251.5" fill="#ffffff" opacity="0.07"/><rect x="141.20" y="329" width="1" height="251.5" fill="#ffffff" opacity="0.07"/><rect x="146.30" y="329" width="1" height="251.5" fill="#ffffff" opacity="0.07"/><rect x="151.40" y="329" width="1" height="251.5" fill="#ffffff" opacity="0.07"/><rect x="156.50" y="329" width="1" height="251.5" fill="#ffffff" opacity="0.07"/><rect x="161.60" y="329" width="1" height="251.5" fill="#ffffff" opacity="0.07"/><rect x="166.70" y="329" width="1" height="251.5" fill="#ffffff" opacity="0.07"/><rect x="171.80" y="329" width="1" height="251.5" fill="#ffffff" opacity="0.07"/><rect x="176.90" y="329" width="1" height="251.5" fill="#ffffff" opacity="0.07"/><rect x="182.00" y="329" width="1" height="251.5" fill="#ffffff" opacity="0.07"/><rect x="187.10" y="329" width="1" height="251.5" fill="#ffffff" opacity="0.07"/><rect x="192.20" y="329" width="1" height="251.5" fill="#ffffff" opacity="0.07"/><rect x="197.30" y="329" width="1" height="251.5" fill="#ffffff" opacity="0.07"/><rect x="202.40" y="329" width="1" height="251.5" fill="#ffffff" opacity="0.07"/><rect x="207.50" y="329" width="1" height="251.5" fill="#ffffff" opacity="0.07"/><rect x="212.60" y="329" width="1" height="251.5" fill="#ffffff" opacity="0.07"/><rect x="217.70" y="329" width="1" height="251.5" fill="#ffffff" opacity="0.07"/>
<rect x="67" y="557.50" width="722" height="1" fill="#5f9ad0" opacity="0.55"/>
<rect x="67" y="534.50" width="722" height="1" fill="#5f9ad0" opacity="0.55"/>
<rect x="67" y="511.50" width="722" height="1" fill="#5f9ad0" opacity="0.55"/>
<rect x="67" y="488.50" width="722" height="1" fill="#5f9ad0" opacity="0.55"/>
<rect x="67" y="465.50" width="722" height="1" fill="#5f9ad0" opacity="0.55"/>
<rect x="67" y="442.50" width="722" height="1" fill="#5f9ad0" opacity="0.55"/>
<rect x="67" y="419.50" width="722" height="1" fill="#5f9ad0" opacity="0.55"/>
<rect x="67" y="396.50" width="722" height="1" fill="#5f9ad0" opacity="0.55"/>
<rect x="67" y="373.50" width="722" height="1" fill="#5f9ad0" opacity="0.55"/>
<rect x="67" y="350.50" width="722" height="1" fill="#5f9ad0" opacity="0.55"/>
<text x="39.60" y="562.30" font-size="9.4" font-weight="bold" fill="#eef3f8" textLength="19.8" lengthAdjust="spacingAndGlyphs" font-family="Liberation Sans, sans-serif">5 kn</text>
<text x="34.20" y="539.30" font-size="9.4" font-weight="bold" fill="#eef3f8" textLength="25.2" lengthAdjust="spacingAndGlyphs" font-family="Liberation Sans, sans-serif">10 kn</text>
<text x="34.20" y="516.30" font-size="9.4" font-weight="bold" fill="#eef3f8" textLength="25.2" lengthAdjust="spacingAndGlyphs" font-family="Liberation Sans, sans-serif">15 kn</text>
<text x="34.20" y="493.30" font-size="9.4" font-weight="bold" fill="#eef3f8" textLength="25.2" lengthAdjust="spacingAndGlyphs" font-family="Liberation Sans, sans-serif">20 kn</text>
<text x="34.20" y="470.30" font-size="9.4" font-weight="bold" fill="#eef3f8" textLength="25.2" lengthAdjust="spacingAndGlyphs" font-family="Liberation Sans, sans-serif">25 kn</text>
<text x="34.20" y="447.30" font-size="9.4" font-weight="bold" fill="#eef3f8" textLength="25.2" lengthAdjust="spacingAndGlyphs" font-family="Liberation Sans, sans-serif">30 kn</text>
<text x="34.20" y="424.30" font-size="9.4" font-weight="bold" fill="#eef3f8" textLength="25.2" lengthAdjust="spacingAndGlyphs" font-family="Liberation Sans, sans-serif">35 kn</text>
<text x="34.20" y="401.30" font-size="9.4" font-weight="bold" fill="#eef3f8" textLength="25.2" lengthAdjust="spacingAndGlyphs" font-family="Liberation Sans, sans-serif">40 kn</text>
<text x="34.20" y="378.30" font-size="9.4" font-weight="bold" fill="#eef3f8" textLength="25.2" lengthAdjust="spacingAndGlyphs" font-family="Liberation Sans, sans-serif">45 kn</text>
<g fill="url(#bg)" opacity="0.42"><rect x="70.30" y="525.80" width="5.1" height="54.70"/><rect x="75.40" y="544.20" width="5.1" height="36.30"/><rect x="80.50" y="553.40" width="5.1" height="27.10"/><rect x="85.60" y="535.00" width="5.1" height="45.50"/><rect x="90.70" y="525.80" width="5.1" height="54.70"/><rect x="95.80" y="544.20" width="5.1" height="36.30"/><rect x="100.90" y="525.80" width="5.1" height="54.70"/><rect x="106.00" y="516.60" width="5.1" height="63.90"/><rect x="111.10" y="502.80" width="5.1" height="77.70"/><rect x="116.20" y="507.40" width="5.1" height="73.10"/><rect x="121.30" y="516.60" width="5.1" height="63.90"/><rect x="126.40" y="544.20" width="5.1" height="36.30"/><rect x="131.50" y="544.20" width="5.1" height="36.30"/><rect x="136.60" y="544.20" width="5.1" height="36.30"/><rect x="141.70" y="544.20" width="5.1" height="36.30"/><rect x="146.80" y="525.80" width="5.1" height="54.70"/><rect x="151.90" y="535.00" width="5.1" height="45.50"/><rect x="157.00" y="544.20" width="5.1" height="36.30"/><rect x="162.10" y="507.40" width="5.1" height="73.10"/><rect x="167.20" y="507.40" width="5.1" height="73.10"/><rect x="172.30" y="507.40" width="5.1" height="73.10"/><rect x="177.40" y="516.60" width="5.1" height="63.90"/><rect x="182.50" y="493.60" width="5.1" height="86.90"/><rect x="187.60" y="493.60" width="5.1" height="86.90"/><rect x="192.70" y="502.80" width="5.1" height="77.70"/><rect x="197.80" y="516.60" width="5.1" height="63.90"/><rect x="202.90" y="507.40" width="5.1" height="73.10"/><rect x="208.00" y="493.60" width="5.1" height="86.90"/><rect x="213.10" y="484.40" width="5.1" height="96.10"/><rect x="218.20" y="484.40" width="5.1" height="96.10"/></g>
<g fill="url(#bg)"><rect x="225.80" y="476.12" width="3.75" height="104.38" fill="url(#bg)"/><rect x="230.90" y="476.12" width="3.75" height="104.38" fill="url(#bgd)"/><rect x="235.99" y="476.12" width="3.75" height="104.38" fill="url(#bgd)"/><rect x="241.09" y="476.12" width="3.75" height="104.38" fill="url(#bgd)"/><rect x="246.18" y="466.92" width="3.75" height="113.58" fill="url(#bg)"/><rect x="251.28" y="466.92" width="3.75" height="113.58" fill="url(#bg)"/><rect x="256.38" y="456.80" width="3.75" height="123.70" fill="url(#bg)"/><rect x="261.47" y="456.80" width="3.75" height="123.70" fill="url(#bgd)"/><rect x="266.57" y="456.80" width="3.75" height="123.70" fill="url(#bgd)"/><rect x="271.66" y="466.92" width="3.75" height="113.58" fill="url(#bgd)"/><rect x="276.76" y="476.12" width="3.75" height="104.38" fill="url(#bg)"/><rect x="281.86" y="484.86" width="3.75" height="95.64" fill="url(#bg)"/><rect x="286.95" y="493.60" width="3.75" height="86.90" fill="url(#bg)"/><rect x="292.05" y="503.72" width="3.75" height="76.78" fill="url(#bgd)"/><rect x="297.14" y="503.72" width="3.75" height="76.78" fill="url(#bgd)"/><rect x="302.24" y="503.72" width="3.75" height="76.78" fill="url(#bgd)"/><rect x="307.34" y="503.72" width="3.75" height="76.78" fill="url(#bg)"/><rect x="312.43" y="503.72" width="3.75" height="76.78" fill="url(#bg)"/><rect x="317.53" y="503.72" width="3.75" height="76.78" fill="url(#bg)"/><rect x="322.62" y="503.72" width="3.75" height="76.78" fill="url(#bgd)"/><rect x="327.72" y="503.72" width="3.75" height="76.78" fill="url(#bgd)"/><rect x="332.82" y="503.72" width="3.75" height="76.78" fill="url(#bgd)"/><rect x="337.91" y="503.72" width="3.75" height="76.78" fill="url(#bg)"/><rect x="343.01" y="493.60" width="3.75" height="86.90" fill="url(#bg)"/><rect x="348.10" y="484.86" width="3.75" height="95.64" fill="url(#bg)"/><rect x="353.16" y="456.80" width="14.20" height="123.70" fill="url(#bgd)"/><rect x="368.32" y="447.83" width="14.20" height="132.67" fill="url(#bg)"/><rect x="383.49" y="466.92" width="14.20" height="113.58" fill="url(#bgd)"/><rect x="398.65" y="493.60" width="14.20" height="86.90" fill="url(#bg)"/><rect x="413.82" y="517.06" width="14.20" height="63.44" fill="url(#bgd)"/><rect x="428.98" y="525.57" width="14.20" height="54.93" fill="url(#bg)"/><rect x="444.14" y="525.57" width="14.20" height="54.93" fill="url(#bgd)"/><rect x="459.31" y="517.06" width="14.20" height="63.44" fill="url(#bg)"/><rect x="474.47" y="508.09" width="14.20" height="72.41" fill="url(#bgd)"/><rect x="489.64" y="503.72" width="14.20" height="76.78" fill="url(#bg)"/><rect x="504.80" y="503.72" width="14.20" height="76.78" fill="url(#bgd)"/><rect x="519.96" y="508.09" width="14.20" height="72.41" fill="url(#bg)"/><rect x="535.13" y="517.06" width="14.20" height="63.44" fill="url(#bgd)"/><rect x="550.29" y="525.57" width="14.20" height="54.93" fill="url(#bg)"/><rect x="565.46" y="517.06" width="14.20" height="63.44" fill="url(#bgd)"/><rect x="580.62" y="508.09" width="14.20" height="72.41" fill="url(#bg)"/><rect x="595.78" y="508.09" width="14.20" height="72.41" fill="url(#bgd)"/><rect x="610.95" y="503.72" width="14.20" height="76.78" fill="url(#bg)"/><rect x="626.11" y="508.09" width="14.20" height="72.41" fill="url(#bgd)"/><rect x="641.28" y="545.12" width="14.20" height="35.38" fill="url(#bg)"/><rect x="656.44" y="553.86" width="14.20" height="26.64" fill="url(#bgd)"/><rect x="671.60" y="545.12" width="14.20" height="35.38" fill="url(#bg)"/><rect x="686.77" y="545.12" width="14.20" height="35.38" fill="url(#bgd)"/><rect x="701.93" y="535.92" width="14.20" height="44.58" fill="url(#bg)"/><rect x="717.10" y="517.06" width="14.20" height="63.44" fill="url(#bgd)"/><rect x="732.26" y="508.09" width="14.20" height="72.41" fill="url(#bg)"/><rect x="747.42" y="508.09" width="14.20" height="72.41" fill="url(#bgd)"/><rect x="762.59" y="517.06" width="14.20" height="63.44" fill="url(#bg)"/><rect x="229.55" y="476.12" width="1.35" height="104.38"/><rect x="234.65" y="476.12" width="1.35" height="104.38"/><rect x="239.74" y="476.12" width="1.35" height="104.38"/><rect x="244.84" y="476.12" width="1.35" height="104.38"/><rect x="249.93" y="466.92" width="1.35" height="113.58"/><rect x="255.03" y="466.92" width="1.35" height="113.58"/><rect x="260.13" y="456.80" width="1.35" height="123.70"/><rect x="265.22" y="456.80" width="1.35" height="123.70"/><rect x="270.32" y="466.92" width="1.35" height="113.58"/><rect x="275.41" y="476.12" width="1.35" height="104.38"/><rect x="280.51" y="484.86" width="1.35" height="95.64"/><rect x="285.61" y="493.60" width="1.35" height="86.90"/><rect x="290.70" y="503.72" width="1.35" height="76.78"/><rect x="295.80" y="503.72" width="1.35" height="76.78"/><rect x="300.89" y="503.72" width="1.35" height="76.78"/><rect x="305.99" y="503.72" width="1.35" height="76.78"/><rect x="311.09" y="503.72" width="1.35" height="76.78"/><rect x="316.18" y="503.72" width="1.35" height="76.78"/><rect x="321.28" y="503.72" width="1.35" height="76.78"/><rect x="326.37" y="503.72" width="1.35" height="76.78"/><rect x="331.47" y="503.72" width="1.35" height="76.78"/><rect x="336.57" y="503.72" width="1.35" height="76.78"/><rect x="341.66" y="503.72" width="1.35" height="76.78"/><rect x="346.76" y="493.60" width="1.35" height="86.90"/><rect x="351.85" y="484.86" width="1.31" height="95.64"/><rect x="367.36" y="456.80" width="0.96" height="123.70"/><rect x="382.52" y="466.92" width="0.96" height="113.58"/><rect x="397.69" y="493.60" width="0.96" height="86.90"/><rect x="412.85" y="517.06" width="0.96" height="63.44"/><rect x="428.02" y="525.57" width="0.96" height="54.93"/><rect x="443.18" y="525.57" width="0.96" height="54.93"/><rect x="458.34" y="525.57" width="0.96" height="54.93"/><rect x="473.51" y="517.06" width="0.96" height="63.44"/><rect x="488.67" y="508.09" width="0.96" height="72.41"/><rect x="503.84" y="503.72" width="0.96" height="76.78"/><rect x="519.00" y="508.09" width="0.96" height="72.41"/><rect x="534.16" y="517.06" width="0.96" height="63.44"/><rect x="549.33" y="525.57" width="0.96" height="54.93"/><rect x="564.49" y="525.57" width="0.96" height="54.93"/><rect x="579.66" y="517.06" width="0.96" height="63.44"/><rect x="594.82" y="508.09" width="0.96" height="72.41"/><rect x="609.98" y="508.09" width="0.96" height="72.41"/><rect x="625.15" y="508.09" width="0.96" height="72.41"/><rect x="640.31" y="545.12" width="0.96" height="35.38"/><rect x="655.48" y="553.86" width="0.96" height="26.64"/><rect x="670.64" y="553.86" width="0.96" height="26.64"/><rect x="685.80" y="545.12" width="0.96" height="35.38"/><rect x="700.97" y="545.12" width="0.96" height="35.38"/><rect x="716.13" y="535.92" width="0.96" height="44.58"/><rect x="731.30" y="517.06" width="0.96" height="63.44"/><rect x="746.46" y="508.09" width="0.96" height="72.41"/><rect x="761.62" y="517.06" width="0.96" height="63.44"/></g>
<g fill="#06323e" opacity="0.72"><rect x="229.55" y="476.12" width="1.35" height="104.38"/><rect x="234.65" y="476.12" width="1.35" height="104.38"/><rect x="239.74" y="476.12" width="1.35" height="104.38"/><rect x="244.84" y="476.12" width="1.35" height="104.38"/><rect x="249.93" y="466.92" width="1.35" height="113.58"/><rect x="255.03" y="466.92" width="1.35" height="113.58"/><rect x="260.13" y="456.80" width="1.35" height="123.70"/><rect x="265.22" y="456.80" width="1.35" height="123.70"/><rect x="270.32" y="466.92" width="1.35" height="113.58"/><rect x="275.41" y="476.12" width="1.35" height="104.38"/><rect x="280.51" y="484.86" width="1.35" height="95.64"/><rect x="285.61" y="493.60" width="1.35" height="86.90"/><rect x="290.70" y="503.72" width="1.35" height="76.78"/><rect x="295.80" y="503.72" width="1.35" height="76.78"/><rect x="300.89" y="503.72" width="1.35" height="76.78"/><rect x="305.99" y="503.72" width="1.35" height="76.78"/><rect x="311.09" y="503.72" width="1.35" height="76.78"/><rect x="316.18" y="503.72" width="1.35" height="76.78"/><rect x="321.28" y="503.72" width="1.35" height="76.78"/><rect x="326.37" y="503.72" width="1.35" height="76.78"/><rect x="331.47" y="503.72" width="1.35" height="76.78"/><rect x="336.57" y="503.72" width="1.35" height="76.78"/><rect x="341.66" y="503.72" width="1.35" height="76.78"/><rect x="346.76" y="493.60" width="1.35" height="86.90"/><rect x="351.85" y="484.86" width="1.31" height="95.64"/><rect x="367.36" y="456.80" width="0.96" height="123.70"/><rect x="382.52" y="466.92" width="0.96" height="113.58"/><rect x="397.69" y="493.60" width="0.96" height="86.90"/><rect x="412.85" y="517.06" width="0.96" height="63.44"/><rect x="428.02" y="525.57" width="0.96" height="54.93"/><rect x="443.18" y="525.57" width="0.96" height="54.93"/><rect x="458.34" y="525.57" width="0.96" height="54.93"/><rect x="473.51" y="517.06" width="0.96" height="63.44"/><rect x="488.67" y="508.09" width="0.96" height="72.41"/><rect x="503.84" y="503.72" width="0.96" height="76.78"/><rect x="519.00" y="508.09" width="0.96" height="72.41"/><rect x="534.16" y="517.06" width="0.96" height="63.44"/><rect x="549.33" y="525.57" width="0.96" height="54.93"/><rect x="564.49" y="525.57" width="0.96" height="54.93"/><rect x="579.66" y="517.06" width="0.96" height="63.44"/><rect x="594.82" y="508.09" width="0.96" height="72.41"/><rect x="609.98" y="508.09" width="0.96" height="72.41"/><rect x="625.15" y="508.09" width="0.96" height="72.41"/><rect x="640.31" y="545.12" width="0.96" height="35.38"/><rect x="655.48" y="553.86" width="0.96" height="26.64"/><rect x="670.64" y="553.86" width="0.96" height="26.64"/><rect x="685.80" y="545.12" width="0.96" height="35.38"/><rect x="700.97" y="545.12" width="0.96" height="35.38"/><rect x="716.13" y="535.92" width="0.96" height="44.58"/><rect x="731.30" y="517.06" width="0.96" height="63.44"/><rect x="746.46" y="508.09" width="0.96" height="72.41"/><rect x="761.62" y="517.06" width="0.96" height="63.44"/></g>
<path d="M69.50,544.20 C71.50,544.20 73.50,544.20 75.50,544.20 C77.17,544.20 78.83,561.68 80.50,561.68 C82.50,561.68 84.50,561.68 86.50,561.68 C87.67,561.68 88.83,553.40 90.00,553.40 C95.50,553.40 101.00,553.40 106.50,553.40 C109.67,553.40 112.83,524.88 116.00,524.88 C117.67,524.88 119.33,529.06 121.00,533.16 C122.83,537.67 124.67,545.85 126.50,551.10 C127.93,555.20 129.37,561.68 130.80,561.68 C139.67,561.68 148.53,561.68 157.40,561.68 C158.87,561.68 160.33,570.42 161.80,570.42 C163.73,570.42 165.67,570.42 167.60,570.42 C168.93,570.42 170.27,552.48 171.60,552.48 C173.33,552.48 175.07,552.48 176.80,552.48 C178.37,552.48 179.93,547.01 181.50,544.20 C183.27,541.03 185.03,537.63 186.80,534.54 C188.63,531.34 190.47,525.34 192.30,525.34 C193.77,525.34 195.23,529.63 196.70,533.62 C198.47,538.43 200.23,552.48 202.00,552.48 C204.00,552.48 206.00,552.48 208.00,552.48 C209.43,552.48 210.87,533.88 212.30,528.10 C213.97,521.38 215.63,516.14 217.30,516.14 C219.37,516.14 221.43,522.58 223.50,525.80" fill="none" stroke="#17475f" stroke-width="2.6" stroke-linejoin="round" stroke-linecap="round"/>
<path d="M226.30,516.60 C227.90,516.60 229.50,516.60 231.10,516.60 C232.79,516.60 234.49,516.60 236.19,516.60 C237.89,516.60 239.59,516.60 241.29,516.60 C242.99,516.60 244.69,516.60 246.38,516.60 C248.08,516.60 249.78,516.60 251.48,516.60 C253.18,516.60 254.88,516.60 256.58,516.60 C258.27,516.60 259.97,516.60 261.67,516.60 C263.37,516.60 265.07,516.60 266.77,516.60 C268.47,516.60 270.17,516.60 271.86,516.60 C273.56,516.60 275.26,525.80 276.96,525.80 C278.66,525.80 280.36,525.80 282.06,525.80 C283.75,525.80 285.45,535.00 287.15,535.00 C288.85,535.00 290.55,535.00 292.25,535.00 C293.95,535.00 295.65,535.00 297.34,535.00 C299.04,535.00 300.74,535.00 302.44,535.00 C304.14,535.00 305.84,535.00 307.54,535.00 C309.23,535.00 310.93,535.00 312.63,535.00 C314.33,535.00 316.03,535.00 317.73,535.00 C319.43,535.00 321.13,535.00 322.82,535.00 C324.52,535.00 326.22,535.00 327.92,535.00 C329.62,535.00 331.32,535.00 333.02,535.00 C334.71,535.00 336.41,525.80 338.11,525.80 C339.81,525.80 341.51,525.80 343.21,525.80 C344.91,525.80 346.61,525.80 348.30,525.80 C350.71,525.80 353.11,516.60 355.52,516.60 C360.56,516.60 365.60,516.60 370.64,516.60 C375.68,516.60 380.72,516.60 385.76,516.60 C390.80,516.60 395.85,530.40 400.89,535.00 C405.93,539.60 410.97,541.13 416.01,544.20 C421.05,547.27 426.09,553.40 431.13,553.40 C436.17,553.40 441.21,553.40 446.26,553.40 C451.30,553.40 456.34,553.40 461.38,553.40 C466.42,553.40 471.46,544.20 476.50,544.20 C481.54,544.20 486.58,544.20 491.62,544.20 C496.67,544.20 501.71,544.20 506.75,544.20 C511.79,544.20 516.83,544.20 521.87,544.20 C526.91,544.20 531.95,553.40 536.99,553.40 C542.03,553.40 547.08,544.20 552.12,544.20 C557.16,544.20 562.20,544.20 567.24,544.20 C572.28,544.20 577.32,544.20 582.36,544.20 C587.40,544.20 592.44,544.20 597.49,544.20 C602.53,544.20 607.57,535.00 612.61,535.00 C617.65,535.00 622.69,541.13 627.73,544.20 C632.77,547.27 637.81,550.33 642.85,553.40 C647.90,556.47 652.94,562.60 657.98,562.60 C663.02,562.60 668.06,562.60 673.10,562.60 C678.14,562.60 683.18,562.60 688.22,562.60 C693.26,562.60 698.30,562.60 703.35,562.60 C708.39,562.60 713.43,556.47 718.47,553.40 C723.51,550.33 728.55,544.20 733.59,544.20 C738.63,544.20 743.67,544.20 748.72,544.20 C753.76,544.20 758.80,553.40 763.84,553.40 C770.09,553.40 776.35,553.40 782.60,553.40" fill="none" stroke="#17475f" stroke-width="2.6" stroke-linejoin="round" stroke-linecap="round"/>
<rect x="67" y="579.9" width="722" height="1.3" fill="#7cb2de"/>
<rect x="789" y="0" width="1" height="581" fill="#7ab6e6"/>
<text x="81.30" y="324.6" text-anchor="middle" font-size="10" fill="#ffffff" fill-opacity="0.38" font-family="Liberation Sans, sans-serif">04</text>
<text x="96.43" y="324.6" text-anchor="middle" font-size="10" fill="#ffffff" fill-opacity="0.38" font-family="Liberation Sans, sans-serif">07</text>
<text x="111.55" y="324.6" text-anchor="middle" font-size="10" fill="#ffffff" fill-opacity="0.38" font-family="Liberation Sans, sans-serif">10</text>
<text x="126.67" y="324.6" text-anchor="middle" font-size="10" fill="#ffffff" fill-opacity="0.38" font-family="Liberation Sans, sans-serif">13</text>
<text x="141.80" y="324.6" text-anchor="middle" font-size="10" fill="#ffffff" fill-opacity="0.38" font-family="Liberation Sans, sans-serif">16</text>
<text x="156.92" y="324.6" text-anchor="middle" font-size="10" fill="#ffffff" fill-opacity="0.38" font-family="Liberation Sans, sans-serif">19</text>
<text x="172.04" y="324.6" text-anchor="middle" font-size="10" fill="#ffffff" fill-opacity="0.38" font-family="Liberation Sans, sans-serif">22</text>
<text x="187.16" y="324.6" text-anchor="middle" font-size="10" fill="#ffffff" fill-opacity="0.38" font-family="Liberation Sans, sans-serif">01</text>
<text x="202.29" y="324.6" text-anchor="middle" font-size="10" fill="#ffffff" fill-opacity="0.38" font-family="Liberation Sans, sans-serif">04</text>
<text x="217.41" y="324.6" text-anchor="middle" font-size="10" fill="#ffffff" fill-opacity="0.38" font-family="Liberation Sans, sans-serif">07</text>
<text x="232.53" y="324.6" text-anchor="middle" font-size="10" fill="#ffffff" fill-opacity="0.38" font-family="Liberation Sans, sans-serif">10</text>
<text x="247.66" y="324.6" text-anchor="middle" font-size="10" fill="#ffffff" fill-opacity="0.38" font-family="Liberation Sans, sans-serif">13</text>
<text x="262.78" y="324.6" text-anchor="middle" font-size="10" fill="#ffffff" fill-opacity="0.38" font-family="Liberation Sans, sans-serif">16</text>
<text x="277.90" y="324.6" text-anchor="middle" font-size="10" fill="#ffffff" fill-opacity="0.38" font-family="Liberation Sans, sans-serif">19</text>
<text x="293.03" y="324.6" text-anchor="middle" font-size="10" fill="#ffffff" fill-opacity="0.38" font-family="Liberation Sans, sans-serif">22</text>
<text x="308.15" y="324.6" text-anchor="middle" font-size="10" fill="#ffffff" fill-opacity="0.38" font-family="Liberation Sans, sans-serif">01</text>
<text x="323.27" y="324.6" text-anchor="middle" font-size="10" fill="#ffffff" fill-opacity="0.38" font-family="Liberation Sans, sans-serif">04</text>
<text x="338.39" y="324.6" text-anchor="middle" font-size="10" fill="#ffffff" fill-opacity="0.38" font-family="Liberation Sans, sans-serif">07</text>
<text x="353.52" y="324.6" text-anchor="middle" font-size="10" fill="#ffffff" fill-opacity="0.38" font-family="Liberation Sans, sans-serif">10</text>
<text x="368.64" y="324.6" text-anchor="middle" font-size="10" fill="#ffffff" fill-opacity="0.38" font-family="Liberation Sans, sans-serif">13</text>
<text x="383.76" y="324.6" text-anchor="middle" font-size="10" fill="#ffffff" fill-opacity="0.38" font-family="Liberation Sans, sans-serif">16</text>
<text x="398.89" y="324.6" text-anchor="middle" font-size="10" fill="#ffffff" fill-opacity="0.38" font-family="Liberation Sans, sans-serif">19</text>
<text x="414.01" y="324.6" text-anchor="middle" font-size="10" fill="#ffffff" fill-opacity="0.38" font-family="Liberation Sans, sans-serif">22</text>
<text x="429.13" y="324.6" text-anchor="middle" font-size="10" fill="#ffffff" fill-opacity="0.38" font-family="Liberation Sans, sans-serif">01</text>
<text x="444.26" y="324.6" text-anchor="middle" font-size="10" fill="#ffffff" fill-opacity="0.38" font-family="Liberation Sans, sans-serif">04</text>
<text x="459.38" y="324.6" text-anchor="middle" font-size="10" fill="#ffffff" fill-opacity="0.38" font-family="Liberation Sans, sans-serif">07</text>
<text x="474.50" y="324.6" text-anchor="middle" font-size="10" fill="#ffffff" fill-opacity="0.38" font-family="Liberation Sans, sans-serif">10</text>
<text x="489.62" y="324.6" text-anchor="middle" font-size="10" fill="#ffffff" fill-opacity="0.38" font-family="Liberation Sans, sans-serif">13</text>
<text x="504.75" y="324.6" text-anchor="middle" font-size="10" fill="#ffffff" fill-opacity="0.38" font-family="Liberation Sans, sans-serif">16</text>
<text x="519.87" y="324.6" text-anchor="middle" font-size="10" fill="#ffffff" fill-opacity="0.38" font-family="Liberation Sans, sans-serif">19</text>
<text x="534.99" y="324.6" text-anchor="middle" font-size="10" fill="#ffffff" fill-opacity="0.38" font-family="Liberation Sans, sans-serif">22</text>
<text x="550.12" y="324.6" text-anchor="middle" font-size="10" fill="#ffffff" fill-opacity="0.38" font-family="Liberation Sans, sans-serif">01</text>
<text x="565.24" y="324.6" text-anchor="middle" font-size="10" fill="#ffffff" fill-opacity="0.38" font-family="Liberation Sans, sans-serif">04</text>
<text x="580.36" y="324.6" text-anchor="middle" font-size="10" fill="#ffffff" fill-opacity="0.38" font-family="Liberation Sans, sans-serif">07</text>
<text x="595.49" y="324.6" text-anchor="middle" font-size="10" fill="#ffffff" fill-opacity="0.38" font-family="Liberation Sans, sans-serif">10</text>
<text x="610.61" y="324.6" text-anchor="middle" font-size="10" fill="#ffffff" fill-opacity="0.38" font-family="Liberation Sans, sans-serif">13</text>
<text x="625.73" y="324.6" text-anchor="middle" font-size="10" fill="#ffffff" fill-opacity="0.38" font-family="Liberation Sans, sans-serif">16</text>
<text x="640.85" y="324.6" text-anchor="middle" font-size="10" fill="#ffffff" fill-opacity="0.38" font-family="Liberation Sans, sans-serif">19</text>
<text x="655.98" y="324.6" text-anchor="middle" font-size="10" fill="#ffffff" fill-opacity="0.38" font-family="Liberation Sans, sans-serif">22</text>
<text x="671.10" y="324.6" text-anchor="middle" font-size="10" fill="#ffffff" fill-opacity="0.38" font-family="Liberation Sans, sans-serif">01</text>
<text x="686.22" y="324.6" text-anchor="middle" font-size="10" fill="#ffffff" fill-opacity="0.38" font-family="Liberation Sans, sans-serif">04</text>
<text x="701.35" y="324.6" text-anchor="middle" font-size="10" fill="#ffffff" fill-opacity="0.38" font-family="Liberation Sans, sans-serif">07</text>
<text x="716.47" y="324.6" text-anchor="middle" font-size="10" fill="#ffffff" fill-opacity="0.38" font-family="Liberation Sans, sans-serif">10</text>
<text x="731.59" y="324.6" text-anchor="middle" font-size="10" fill="#ffffff" fill-opacity="0.38" font-family="Liberation Sans, sans-serif">13</text>
<text x="746.72" y="324.6" text-anchor="middle" font-size="10" fill="#ffffff" fill-opacity="0.38" font-family="Liberation Sans, sans-serif">16</text>
<text x="761.84" y="324.6" text-anchor="middle" font-size="10" fill="#ffffff" fill-opacity="0.38" font-family="Liberation Sans, sans-serif">19</text>
<text x="776.96" y="324.6" text-anchor="middle" font-size="10" fill="#ffffff" fill-opacity="0.38" font-family="Liberation Sans, sans-serif">22</text>
<path d="M0,-4.0 L3.6,-0.4 L1.2,-0.4 L1.2,3.9 L-1.2,3.9 L-1.2,-0.4 L-3.6,-0.4 Z" transform="translate(72.54,339.8) rotate(45)" fill="none" stroke="#dde9f3" stroke-width="0.95" stroke-linejoin="miter"/>
<path d="M0,-4.0 L3.6,-0.4 L1.2,-0.4 L1.2,3.9 L-1.2,3.9 L-1.2,-0.4 L-3.6,-0.4 Z" transform="translate(87.66,339.8) rotate(45)" fill="none" stroke="#dde9f3" stroke-width="0.95" stroke-linejoin="miter"/>
<path d="M0,-4.0 L3.6,-0.4 L1.2,-0.4 L1.2,3.9 L-1.2,3.9 L-1.2,-0.4 L-3.6,-0.4 Z" transform="translate(102.79,339.8) rotate(45)" fill="none" stroke="#dde9f3" stroke-width="0.95" stroke-linejoin="miter"/>
<path d="M0,-4.0 L3.6,-0.4 L1.2,-0.4 L1.2,3.9 L-1.2,3.9 L-1.2,-0.4 L-3.6,-0.4 Z" transform="translate(117.91,339.8) rotate(45)" fill="none" stroke="#dde9f3" stroke-width="0.95" stroke-linejoin="miter"/>
<path d="M0,-4.0 L3.6,-0.4 L1.2,-0.4 L1.2,3.9 L-1.2,3.9 L-1.2,-0.4 L-3.6,-0.4 Z" transform="translate(133.03,339.8) rotate(45)" fill="none" stroke="#dde9f3" stroke-width="0.95" stroke-linejoin="miter"/>
<path d="M0,-4.0 L3.6,-0.4 L1.2,-0.4 L1.2,3.9 L-1.2,3.9 L-1.2,-0.4 L-3.6,-0.4 Z" transform="translate(148.16,339.8) rotate(45)" fill="none" stroke="#dde9f3" stroke-width="0.95" stroke-linejoin="miter"/>
<path d="M0,-4.0 L3.6,-0.4 L1.2,-0.4 L1.2,3.9 L-1.2,3.9 L-1.2,-0.4 L-3.6,-0.4 Z" transform="translate(163.28,339.8) rotate(90)" fill="none" stroke="#dde9f3" stroke-width="0.95" stroke-linejoin="miter"/>
<path d="M0,-4.0 L3.6,-0.4 L1.2,-0.4 L1.2,3.9 L-1.2,3.9 L-1.2,-0.4 L-3.6,-0.4 Z" transform="translate(178.40,339.8) rotate(45)" fill="none" stroke="#dde9f3" stroke-width="0.95" stroke-linejoin="miter"/>
<path d="M0,-4.0 L3.6,-0.4 L1.2,-0.4 L1.2,3.9 L-1.2,3.9 L-1.2,-0.4 L-3.6,-0.4 Z" transform="translate(193.52,339.8) rotate(45)" fill="none" stroke="#dde9f3" stroke-width="0.95" stroke-linejoin="miter"/>
<path d="M0,-4.0 L3.6,-0.4 L1.2,-0.4 L1.2,3.9 L-1.2,3.9 L-1.2,-0.4 L-3.6,-0.4 Z" transform="translate(208.65,339.8) rotate(45)" fill="none" stroke="#dde9f3" stroke-width="0.95" stroke-linejoin="miter"/>
<path d="M0,-4.0 L3.6,-0.4 L1.2,-0.4 L1.2,3.9 L-1.2,3.9 L-1.2,-0.4 L-3.6,-0.4 Z" transform="translate(223.77,339.8) rotate(45)" fill="none" stroke="#dde9f3" stroke-width="0.95" stroke-linejoin="miter"/>
<path d="M0,-4.0 L3.6,-0.4 L1.2,-0.4 L1.2,3.9 L-1.2,3.9 L-1.2,-0.4 L-3.6,-0.4 Z" transform="translate(238.89,339.8) rotate(45)" fill="none" stroke="#dde9f3" stroke-width="0.95" stroke-linejoin="miter"/>
<path d="M0,-4.0 L3.6,-0.4 L1.2,-0.4 L1.2,3.9 L-1.2,3.9 L-1.2,-0.4 L-3.6,-0.4 Z" transform="translate(254.02,339.8) rotate(45)" fill="none" stroke="#dde9f3" stroke-width="0.95" stroke-linejoin="miter"/>
<path d="M0,-4.0 L3.6,-0.4 L1.2,-0.4 L1.2,3.9 L-1.2,3.9 L-1.2,-0.4 L-3.6,-0.4 Z" transform="translate(269.14,339.8) rotate(45)" fill="none" stroke="#dde9f3" stroke-width="0.95" stroke-linejoin="miter"/>
<path d="M0,-4.0 L3.6,-0.4 L1.2,-0.4 L1.2,3.9 L-1.2,3.9 L-1.2,-0.4 L-3.6,-0.4 Z" transform="translate(284.26,339.8) rotate(45)" fill="none" stroke="#dde9f3" stroke-width="0.95" stroke-linejoin="miter"/>
<path d="M0,-4.0 L3.6,-0.4 L1.2,-0.4 L1.2,3.9 L-1.2,3.9 L-1.2,-0.4 L-3.6,-0.4 Z" transform="translate(299.39,339.8) rotate(45)" fill="none" stroke="#dde9f3" stroke-width="0.95" stroke-linejoin="miter"/>
<path d="M0,-4.0 L3.6,-0.4 L1.2,-0.4 L1.2,3.9 L-1.2,3.9 L-1.2,-0.4 L-3.6,-0.4 Z" transform="translate(314.51,339.8) rotate(45)" fill="none" stroke="#dde9f3" stroke-width="0.95" stroke-linejoin="miter"/>
<path d="M0,-4.0 L3.6,-0.4 L1.2,-0.4 L1.2,3.9 L-1.2,3.9 L-1.2,-0.4 L-3.6,-0.4 Z" transform="translate(329.63,339.8) rotate(45)" fill="none" stroke="#dde9f3" stroke-width="0.95" stroke-linejoin="miter"/>
<path d="M0,-4.0 L3.6,-0.4 L1.2,-0.4 L1.2,3.9 L-1.2,3.9 L-1.2,-0.4 L-3.6,-0.4 Z" transform="translate(344.75,339.8) rotate(45)" fill="none" stroke="#dde9f3" stroke-width="0.95" stroke-linejoin="miter"/>
<path d="M0,-4.0 L3.6,-0.4 L1.2,-0.4 L1.2,3.9 L-1.2,3.9 L-1.2,-0.4 L-3.6,-0.4 Z" transform="translate(359.88,339.8) rotate(45)" fill="none" stroke="#dde9f3" stroke-width="0.95" stroke-linejoin="miter"/>
<path d="M0,-4.0 L3.6,-0.4 L1.2,-0.4 L1.2,3.9 L-1.2,3.9 L-1.2,-0.4 L-3.6,-0.4 Z" transform="translate(375.00,339.8) rotate(45)" fill="none" stroke="#dde9f3" stroke-width="0.95" stroke-linejoin="miter"/>
<path d="M0,-4.0 L3.6,-0.4 L1.2,-0.4 L1.2,3.9 L-1.2,3.9 L-1.2,-0.4 L-3.6,-0.4 Z" transform="translate(390.12,339.8) rotate(45)" fill="none" stroke="#dde9f3" stroke-width="0.95" stroke-linejoin="miter"/>
<path d="M0,-4.0 L3.6,-0.4 L1.2,-0.4 L1.2,3.9 L-1.2,3.9 L-1.2,-0.4 L-3.6,-0.4 Z" transform="translate(405.25,339.8) rotate(45)" fill="none" stroke="#dde9f3" stroke-width="0.95" stroke-linejoin="miter"/>
<path d="M0,-4.0 L3.6,-0.4 L1.2,-0.4 L1.2,3.9 L-1.2,3.9 L-1.2,-0.4 L-3.6,-0.4 Z" transform="translate(420.37,339.8) rotate(45)" fill="none" stroke="#dde9f3" stroke-width="0.95" stroke-linejoin="miter"/>
<path d="M0,-4.0 L3.6,-0.4 L1.2,-0.4 L1.2,3.9 L-1.2,3.9 L-1.2,-0.4 L-3.6,-0.4 Z" transform="translate(435.49,339.8) rotate(45)" fill="none" stroke="#dde9f3" stroke-width="0.95" stroke-linejoin="miter"/>
<path d="M0,-4.0 L3.6,-0.4 L1.2,-0.4 L1.2,3.9 L-1.2,3.9 L-1.2,-0.4 L-3.6,-0.4 Z" transform="translate(450.62,339.8) rotate(45)" fill="none" stroke="#dde9f3" stroke-width="0.95" stroke-linejoin="miter"/>
<path d="M0,-4.0 L3.6,-0.4 L1.2,-0.4 L1.2,3.9 L-1.2,3.9 L-1.2,-0.4 L-3.6,-0.4 Z" transform="translate(465.74,339.8) rotate(45)" fill="none" stroke="#dde9f3" stroke-width="0.95" stroke-linejoin="miter"/>
<path d="M0,-4.0 L3.6,-0.4 L1.2,-0.4 L1.2,3.9 L-1.2,3.9 L-1.2,-0.4 L-3.6,-0.4 Z" transform="translate(480.86,339.8) rotate(45)" fill="none" stroke="#dde9f3" stroke-width="0.95" stroke-linejoin="miter"/>
<path d="M0,-4.0 L3.6,-0.4 L1.2,-0.4 L1.2,3.9 L-1.2,3.9 L-1.2,-0.4 L-3.6,-0.4 Z" transform="translate(495.98,339.8) rotate(45)" fill="none" stroke="#dde9f3" stroke-width="0.95" stroke-linejoin="miter"/>
<path d="M0,-4.0 L3.6,-0.4 L1.2,-0.4 L1.2,3.9 L-1.2,3.9 L-1.2,-0.4 L-3.6,-0.4 Z" transform="translate(511.11,339.8) rotate(45)" fill="none" stroke="#dde9f3" stroke-width="0.95" stroke-linejoin="miter"/>
<path d="M0,-4.0 L3.6,-0.4 L1.2,-0.4 L1.2,3.9 L-1.2,3.9 L-1.2,-0.4 L-3.6,-0.4 Z" transform="translate(526.23,339.8) rotate(45)" fill="none" stroke="#dde9f3" stroke-width="0.95" stroke-linejoin="miter"/>
<path d="M0,-4.0 L3.6,-0.4 L1.2,-0.4 L1.2,3.9 L-1.2,3.9 L-1.2,-0.4 L-3.6,-0.4 Z" transform="translate(541.35,339.8) rotate(45)" fill="none" stroke="#dde9f3" stroke-width="0.95" stroke-linejoin="miter"/>
<path d="M0,-4.0 L3.6,-0.4 L1.2,-0.4 L1.2,3.9 L-1.2,3.9 L-1.2,-0.4 L-3.6,-0.4 Z" transform="translate(556.48,339.8) rotate(45)" fill="none" stroke="#dde9f3" stroke-width="0.95" stroke-linejoin="miter"/>
<path d="M0,-4.0 L3.6,-0.4 L1.2,-0.4 L1.2,3.9 L-1.2,3.9 L-1.2,-0.4 L-3.6,-0.4 Z" transform="translate(571.60,339.8) rotate(45)" fill="none" stroke="#dde9f3" stroke-width="0.95" stroke-linejoin="miter"/>
<path d="M0,-4.0 L3.6,-0.4 L1.2,-0.4 L1.2,3.9 L-1.2,3.9 L-1.2,-0.4 L-3.6,-0.4 Z" transform="translate(586.72,339.8) rotate(45)" fill="none" stroke="#dde9f3" stroke-width="0.95" stroke-linejoin="miter"/>
<path d="M0,-4.0 L3.6,-0.4 L1.2,-0.4 L1.2,3.9 L-1.2,3.9 L-1.2,-0.4 L-3.6,-0.4 Z" transform="translate(601.85,339.8) rotate(45)" fill="none" stroke="#dde9f3" stroke-width="0.95" stroke-linejoin="miter"/>
<path d="M0,-4.0 L3.6,-0.4 L1.2,-0.4 L1.2,3.9 L-1.2,3.9 L-1.2,-0.4 L-3.6,-0.4 Z" transform="translate(616.97,339.8) rotate(45)" fill="none" stroke="#dde9f3" stroke-width="0.95" stroke-linejoin="miter"/>
<path d="M0,-4.0 L3.6,-0.4 L1.2,-0.4 L1.2,3.9 L-1.2,3.9 L-1.2,-0.4 L-3.6,-0.4 Z" transform="translate(632.09,339.8) rotate(45)" fill="none" stroke="#dde9f3" stroke-width="0.95" stroke-linejoin="miter"/>
<path d="M0,-4.0 L3.6,-0.4 L1.2,-0.4 L1.2,3.9 L-1.2,3.9 L-1.2,-0.4 L-3.6,-0.4 Z" transform="translate(647.21,339.8) rotate(45)" fill="none" stroke="#dde9f3" stroke-width="0.95" stroke-linejoin="miter"/>
<path d="M0,-4.0 L3.6,-0.4 L1.2,-0.4 L1.2,3.9 L-1.2,3.9 L-1.2,-0.4 L-3.6,-0.4 Z" transform="translate(662.34,339.8) rotate(45)" fill="none" stroke="#dde9f3" stroke-width="0.95" stroke-linejoin="miter"/>
<path d="M0,-4.0 L3.6,-0.4 L1.2,-0.4 L1.2,3.9 L-1.2,3.9 L-1.2,-0.4 L-3.6,-0.4 Z" transform="translate(677.46,339.8) rotate(45)" fill="none" stroke="#dde9f3" stroke-width="0.95" stroke-linejoin="miter"/>
<path d="M0,-4.0 L3.6,-0.4 L1.2,-0.4 L1.2,3.9 L-1.2,3.9 L-1.2,-0.4 L-3.6,-0.4 Z" transform="translate(692.58,339.8) rotate(45)" fill="none" stroke="#dde9f3" stroke-width="0.95" stroke-linejoin="miter"/>
<path d="M0,-4.0 L3.6,-0.4 L1.2,-0.4 L1.2,3.9 L-1.2,3.9 L-1.2,-0.4 L-3.6,-0.4 Z" transform="translate(707.71,339.8) rotate(0)" fill="none" stroke="#dde9f3" stroke-width="0.95" stroke-linejoin="miter"/>
<path d="M0,-4.0 L3.6,-0.4 L1.2,-0.4 L1.2,3.9 L-1.2,3.9 L-1.2,-0.4 L-3.6,-0.4 Z" transform="translate(722.83,339.8) rotate(45)" fill="none" stroke="#dde9f3" stroke-width="0.95" stroke-linejoin="miter"/>
<path d="M0,-4.0 L3.6,-0.4 L1.2,-0.4 L1.2,3.9 L-1.2,3.9 L-1.2,-0.4 L-3.6,-0.4 Z" transform="translate(737.95,339.8) rotate(45)" fill="none" stroke="#dde9f3" stroke-width="0.95" stroke-linejoin="miter"/>
<path d="M0,-4.0 L3.6,-0.4 L1.2,-0.4 L1.2,3.9 L-1.2,3.9 L-1.2,-0.4 L-3.6,-0.4 Z" transform="translate(753.08,339.8) rotate(45)" fill="none" stroke="#dde9f3" stroke-width="0.95" stroke-linejoin="miter"/>
<path d="M0,-4.0 L3.6,-0.4 L1.2,-0.4 L1.2,3.9 L-1.2,3.9 L-1.2,-0.4 L-3.6,-0.4 Z" transform="translate(768.20,339.8) rotate(45)" fill="none" stroke="#dde9f3" stroke-width="0.95" stroke-linejoin="miter"/>
<rect x="221" y="580" width="1" height="28" fill="#5f9ad0"/>
<text x="174.7" y="599.3" font-size="10.6" font-weight="bold" fill="#e6eef6" textLength="41.7" lengthAdjust="spacingAndGlyphs" font-family="Liberation Sans, sans-serif">Messung</text>
<text x="226.1" y="599.3" font-size="10.6" font-weight="bold" fill="#e6eef6" textLength="45.2" lengthAdjust="spacingAndGlyphs" font-family="Liberation Sans, sans-serif">Prognose</text>
<path d="M581.1,599.1 L586.6,599.1 C589,599 591,593.6 593.7,593.6 C596,593.6 598,599.2 599.8,599.2 C601.5,599.2 603,598 604.9,597.2" fill="none" stroke="#174a72" stroke-width="1.8" stroke-linecap="round"/>
<text x="615.4" y="600.2" font-size="11" fill="#e6eef6" stroke="#e6eef6" stroke-width="0.2" textLength="50.6" lengthAdjust="spacingAndGlyphs" font-family="Liberation Sans, sans-serif">Mittelwind</text>
<rect x="690.9" y="593.8" width="4.6" height="6.3" fill="#6cc84c"/>
<rect x="696.2" y="589.6" width="4.5" height="10.5" fill="#d8d810"/>
<rect x="701.5" y="591.9" width="4.5" height="8.2" fill="#6cc84c"/>
<text x="710.3" y="600.2" font-size="11" fill="#e6eef6" font-family="Liberation Sans, sans-serif">Böenspitzen</text></svg></body></html>
